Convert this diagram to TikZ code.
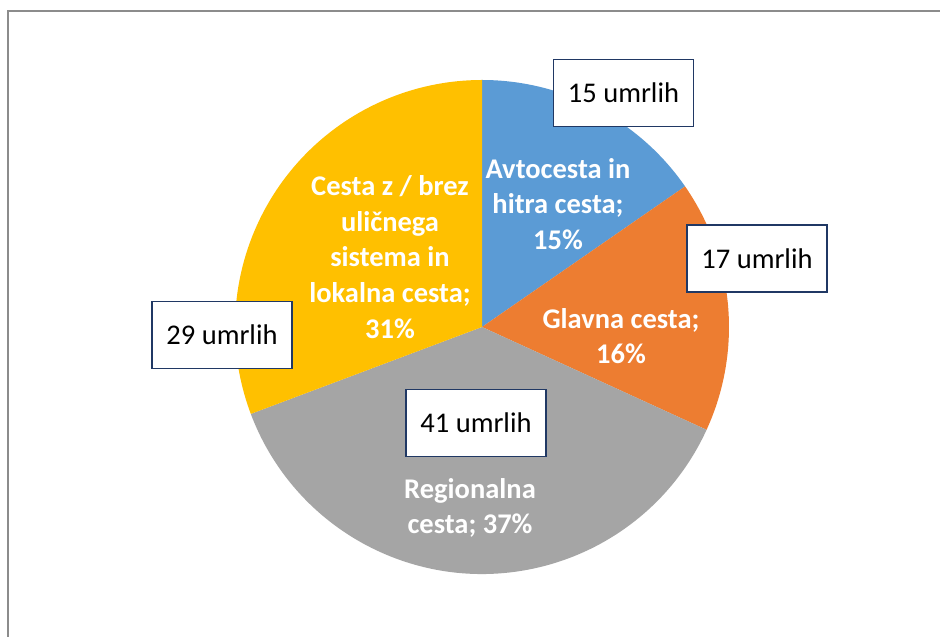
\documentclass[tikz,border=0pt]{standalone}
\usepackage{fontspec}
\setmainfont{Carlito}
\definecolor{cblue}{HTML}{5B9BD5}
\definecolor{corange}{HTML}{ED7D31}
\definecolor{cgray}{HTML}{A5A5A5}
\definecolor{cyellow}{HTML}{FFC000}
\definecolor{boxline}{HTML}{203864}
\definecolor{framegray}{HTML}{8C8C8C}
\tikzset{
  slicelabel/.style={text=white, font=\bfseries\fontsize{28.5}{35.6}\selectfont, align=center, inner sep=0pt},
  countbox/.style={draw=boxline, fill=white, line width=1.5pt, minimum width=140pt, minimum height=67pt, inner sep=0pt, font=\fontsize{28.5}{34}\selectfont, text=black}
}
\begin{document}
\begin{tikzpicture}[x=1pt,y=1pt]
\useasboundingbox (0,0) rectangle (940,637);
\clip (0,0) rectangle (940,637);
\fill[white] (0,0) rectangle (940,637);
\draw[framegray, line width=1.5pt] (8,626) rectangle (980,-40);
\coordinate (c) at (482,310);
\fill[cblue] (c) -- ++(90:247pt) arc[start angle=90, end angle=34.7, radius=247pt] -- cycle;
\fill[corange] (c) -- ++(34.7:247pt) arc[start angle=34.7, end angle=-24.6, radius=247pt] -- cycle;
\fill[cgray] (c) -- ++(-24.6:247pt) arc[start angle=-24.6, end angle=-159.4, radius=247pt] -- cycle;
\fill[cyellow] (c) -- ++(200.6:247pt) arc[start angle=200.6, end angle=90, radius=247pt] -- cycle;
\node[slicelabel] (lblue) at (558,433) {Avtocesta in\\hitra cesta;\\15\%};
\node[slicelabel] (lorange) at (621,301) {Glavna cesta;\\16\%};
\node[slicelabel] (lgray) at (470,129) {Regionalna\\cesta; 37\%};
\node[slicelabel] (lyellow) at (390,380) {Cesta z / brez\\uličnega\\sistema in\\lokalna cesta;\\31\%};
\node[countbox] (b15) at (623.5,544) {15 umrlih};
\node[countbox] (b17) at (757,378.5) {17 umrlih};
\node[countbox] (b29) at (222,302) {29 umrlih};
\node[countbox] (b41) at (476,214) {41 umrlih};
\end{tikzpicture}
\end{document}
